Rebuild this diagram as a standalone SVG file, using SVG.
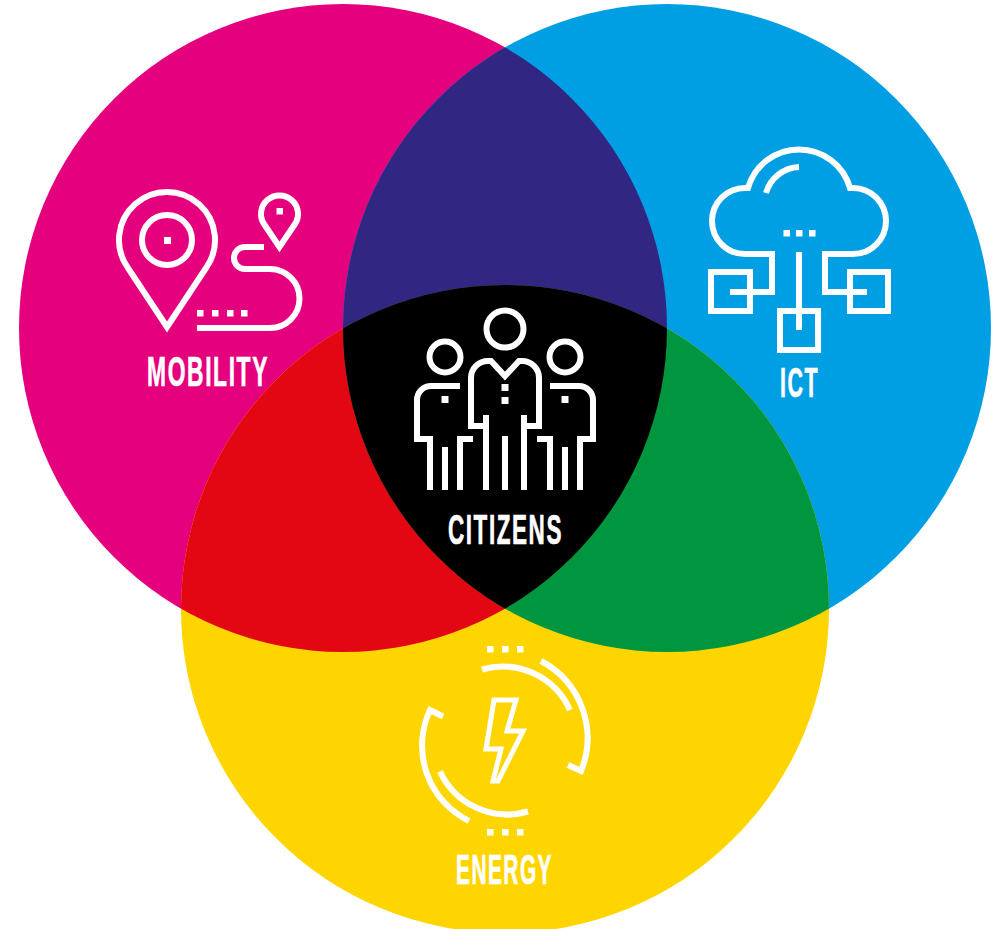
<svg xmlns="http://www.w3.org/2000/svg" width="1007" height="929" viewBox="0 0 1007 929">
<style>
.i{fill:none;stroke:#fff;stroke-width:6;stroke-linejoin:miter}
.d{fill:#fff}
.t{font-family:"Liberation Sans",Arial,sans-serif;font-weight:700;font-size:43px;letter-spacing:3px;fill:#fff;stroke:#fff;stroke-width:.7px}
</style>
<defs>
<clipPath id="cm"><circle cx="343" cy="328" r="324"/></clipPath>
<clipPath id="cb"><circle cx="667" cy="328" r="324"/></clipPath>
</defs>
<rect width="1007" height="929" fill="#fff"/>
<g id="venn">
<circle cx="343" cy="328" r="324" fill="#E5007E"/>
<circle cx="667" cy="328" r="324" fill="#009FE3"/>
<circle cx="505" cy="609" r="324" fill="#FFD500"/>
<g clip-path="url(#cm)"><circle cx="667" cy="328" r="324" fill="#312782"/><circle cx="505" cy="609" r="324" fill="#E30613"/></g>
<g clip-path="url(#cb)"><circle cx="505" cy="609" r="324" fill="#009640"/></g>
<g clip-path="url(#cm)"><g clip-path="url(#cb)"><circle cx="505" cy="609" r="324" fill="#000"/></g></g>
</g>
<g id="mobility">
<path class="i" d="M167 327L128 268A48 48 0 1 1 206 268Z"/>
<circle class="i" cx="167" cy="240" r="25"/>
<rect class="d" x="164" y="237" width="7" height="7"/>
<path class="i" d="M279.500 247L264 224A18.500 18.500 0 1 1 295 224Z"/>
<rect class="d" x="276.500" y="208" width="6.500" height="6.500"/>
<path class="i" d="M264 247H245A11 11 0 0 0 245 269H270A29 29 0 0 1 270 328H197"/>
<g class="d"><rect x="197" y="310" width="6.500" height="6.500"/><rect x="212" y="310" width="6.500" height="6.500"/><rect x="227" y="310" width="6.500" height="6.500"/><rect x="241" y="310" width="6.500" height="6.500"/></g>
<text class="t" x="147" y="386" textLength="122" lengthAdjust="spacingAndGlyphs">MOBILITY</text>
</g>
<g id="ict">
<path class="i" d="M730 292H772V254H745A33 33 0 0 1 745 188H748A53 53 0 0 1 850 188H853A33 33 0 0 1 853 254H825V292H867"/>
<rect class="i" x="711" y="272" width="39" height="39"/>
<rect class="i" x="850" y="272" width="38" height="39"/>
<rect class="i" x="780" y="311" width="38" height="39"/>
<path class="i" d="M799 252V330M766 193A36 36 0 0 1 799 167"/>
<g class="d"><rect x="783.500" y="230" width="6.500" height="6.500"/><rect x="796" y="230" width="6.500" height="6.500"/><rect x="809" y="230" width="6.500" height="6.500"/></g>
<text class="t" x="780" y="397" textLength="39" lengthAdjust="spacingAndGlyphs">ICT</text>
</g>
<g id="citizens">
<circle class="i" cx="505" cy="329" r="18.500"/>
<circle class="i" cx="445" cy="357" r="15.500"/>
<circle class="i" cx="565" cy="357" r="15.500"/>
<path class="i" d="M486 415V490M486 426H471V378A17 17 0 0 1 488 361H491L505 376L519 361H522A17 17 0 0 1 539 378V426H524M524 415V490M505 436V490"/>
<path class="i" d="M460 386H431A14 14 0 0 0 417 400V439H430V490M445 447V490M460 490V439H473"/>
<path class="i" d="M550 386H579A14 14 0 0 1 593 400V439H580V490M565 447V490M550 490V439H537"/>
<g class="d"><rect x="501.500" y="384" width="7" height="7"/><rect x="501.500" y="397" width="7" height="7"/><rect x="441.500" y="396" width="7" height="7"/><rect x="561.500" y="396" width="7" height="7"/></g>
<text class="t" x="448" y="544" textLength="115" lengthAdjust="spacingAndGlyphs">CITIZENS</text>
</g>
<g id="energy">
<path class="i" d="M541 661A87 87 0 0 1 581 771L568 765"/>
<path class="i" d="M482 669.500A74 74 0 0 1 570 710"/>
<path class="i" d="M443 716.500L430 710A84 84 0 0 0 469 821"/>
<path class="i" d="M440 771.500A74 74 0 0 0 528 811.500"/>
<path class="i" d="M494 700H516L507 731H523L498 781H493L501 749H486Z" style="stroke-width:5"/>
<g class="d"><rect x="487" y="646" width="6.500" height="6.500"/><rect x="502" y="646" width="6.500" height="6.500"/><rect x="517" y="646" width="6.500" height="6.500"/><rect x="487" y="829" width="6.500" height="6.500"/><rect x="502" y="829" width="6.500" height="6.500"/><rect x="517" y="829" width="6.500" height="6.500"/></g>
<text class="t" x="456" y="884" textLength="97" lengthAdjust="spacingAndGlyphs">ENERGY</text>
</g>
</svg>
